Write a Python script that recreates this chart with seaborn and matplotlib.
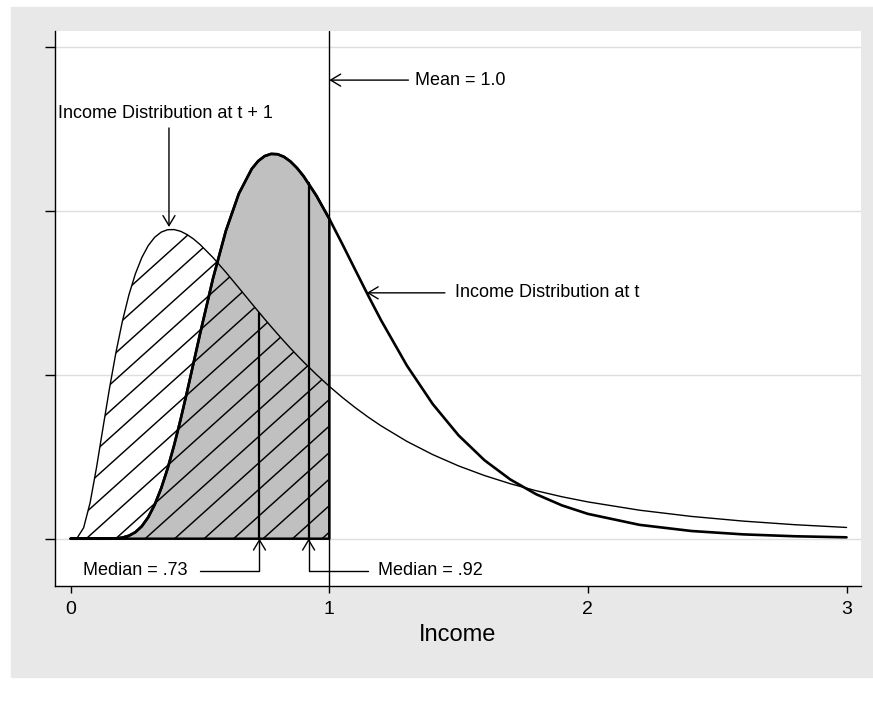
import numpy as np
import pandas as pd
import matplotlib
matplotlib.use("Agg")
import matplotlib.pyplot as plt
from matplotlib.patches import Rectangle
import seaborn as sns

# income grid and the two density curves
income = [0, 0.025, 0.05, 0.075, 0.1, 0.125, 0.15, 0.175, 0.2, 0.225, 0.25, 0.275, 0.3,
          0.325, 0.35, 0.375, 0.4, 0.425, 0.45, 0.475, 0.5, 0.55, 0.6, 0.65, 0.7,
          0.725, 0.75, 0.775, 0.8, 0.825, 0.85, 0.875, 0.9, 0.95, 1.0,
          1.05, 1.1, 1.15, 1.2, 1.3, 1.4, 1.5, 1.6, 1.7, 1.8, 1.9, 2.0,
          2.2, 2.4, 2.6, 2.8, 3.0]
dens_t = [0, 0, 0, 0, 0, 0, 0.0002, 0.001, 0.0034, 0.009, 0.0198, 0.038, 0.0657,
          0.1041, 0.1539, 0.2147, 0.2853, 0.3638, 0.4484, 0.5361, 0.6242, 0.7932, 0.9392,
          1.0523, 1.1281, 1.1521, 1.1672, 1.1739, 1.1729, 1.1649, 1.1506, 1.1309, 1.1065,
          1.0465, 0.9759,
          0.8994, 0.8206, 0.7423, 0.6666, 0.5281, 0.4107, 0.3151, 0.2394, 0.1806, 0.1356,
          0.1015, 0.0757,
          0.0422, 0.0235, 0.0132, 0.0074, 0.0042]
dens_t1 = [0, 0.0024, 0.0333, 0.1096, 0.2179, 0.3389, 0.4586, 0.5684, 0.6638, 0.7435, 0.8078,
           0.8576, 0.8944,
           0.9197, 0.9353, 0.9426, 0.9430, 0.9378, 0.9278, 0.9143, 0.8976, 0.8579, 0.8129,
           0.7654, 0.7174, 0.6936, 0.6701, 0.6470, 0.6244, 0.6023, 0.5808, 0.5599, 0.5396,
           0.5010, 0.4648,
           0.4312, 0.4000, 0.3711, 0.3444, 0.2969, 0.2565, 0.2220, 0.1927, 0.1677, 0.1463,
           0.1279, 0.1122,
           0.0869, 0.0680, 0.0537, 0.0427, 0.0343]

mean_income = 1.0
median_t1, median_t = 0.73, 0.92
median_t1_height, median_t_height = 0.689, 1.084

x_ticks = [0, 1, 2, 3]
y_ticks = [0, 0.5, 1, 1.5]

df = pd.DataFrame({"income": income, "t": dens_t, "t1": dens_t1})
left = df[df["income"] <= mean_income]

sns.set_style("white")
plt.rcParams["font.family"] = ["Liberation Sans", "DejaVu Sans"]
plt.rcParams["text.color"] = "black"
plt.rcParams["axes.labelcolor"] = "black"

fig = plt.figure(figsize=(8.73, 7.05), dpi=100)
fig.patches.append(Rectangle((11 / 873, 1 - 677 / 705), 862 / 873, 670 / 705,
                             transform=fig.transFigure, color="#e8e8e8", zorder=-5))
ax = fig.add_axes([55 / 873, 1 - 586 / 705, 806 / 873, 555 / 705])
ax.set_facecolor("white")

for yv in y_ticks:
    ax.axhline(yv, color="#dedede", lw=1.0, zorder=0.5)

# shaded area under the t curve up to the mean
ax.fill_between(left["income"], 0, left["t"], color="#c0c0c0", lw=0, zorder=1)

# hatched area under the t+1 curve up to the mean
clip = ax.fill_between(left["income"], 0, left["t1"], facecolor="none", lw=0, zorder=1)
clip_path = clip.get_paths()[0]
slope, step = 0.71, 0.114
for x0 in np.arange(0.744 - 14 * step, 1.1, step):
    ln, = ax.plot([x0, x0 + 2.5], [0, 2.5 * slope], color="black", lw=1.05, zorder=1.5)
    ln.set_clip_path(clip_path, transform=ax.transData)

# outline of the shaded block
ax.fill_between(left["income"], 0, left["t"], facecolor="none", edgecolor="black",
                lw=1.8, zorder=2)

sns.lineplot(data=df, x="income", y="t1", color="black", lw=1.0, ax=ax, zorder=3)
sns.lineplot(data=df, x="income", y="t", color="black", lw=1.9, ax=ax, zorder=3)

ax.plot([median_t1, median_t1], [0, median_t1_height], color="black", lw=1.6, zorder=3)
ax.plot([median_t, median_t], [0, median_t_height], color="black", lw=1.6, zorder=3)
ax.axvline(mean_income, color="black", lw=1.0, zorder=3)

arrow = dict(arrowstyle="->,head_length=0.6,head_width=0.36", color="black", lw=1.0,
             shrinkA=0, shrinkB=0, mutation_scale=12)
fs = 13

ax.annotate("", xy=(1.0, 1.399), xytext=(1.306, 1.399), arrowprops=arrow)
ax.text(1.331, 1.399, "Mean = 1.0", fontsize=fs, va="center", ha="left")

ax.annotate("", xy=(0.38, 0.951), xytext=(0.38, 1.253), arrowprops=arrow)
ax.text(-0.049, 1.298, "Income Distribution at t + 1", fontsize=fs, va="center", ha="left")

ax.annotate("", xy=(1.145, 0.750), xytext=(1.447, 0.750), arrowprops=arrow)
ax.text(1.486, 0.750, "Income Distribution at t", fontsize=fs, va="center", ha="left")

elbow = dict(arrow, connectionstyle="angle,angleA=0,angleB=90,rad=0")
ax.annotate("", xy=(median_t1, 0), xytext=(0.50, -0.0976), arrowprops=elbow)
ax.text(0.046, -0.0976, "Median = .73", fontsize=fs, va="center", ha="left")
ax.annotate("", xy=(median_t, 0), xytext=(1.15, -0.0976), arrowprops=elbow)
ax.text(1.187, -0.0976, "Median = .92", fontsize=fs, va="center", ha="left")

ax.set_xlim(-0.0607, 3.056)
ax.set_ylim(-0.1443, 1.5488)
ax.set_xticks(x_ticks)
ax.set_yticks(y_ticks)
ax.set_yticklabels([])
ax.tick_params(axis="x", direction="out", length=5, width=1, pad=6, labelsize=14,
               bottom=True, colors="black")
ax.tick_params(axis="y", direction="out", length=7, width=1, left=True, colors="black")
ax.set_xlabel("Income", fontsize=17, labelpad=4)
ax.set_ylabel("")
for side in ["top", "right"]:
    ax.spines[side].set_visible(False)
for side in ["left", "bottom"]:
    ax.spines[side].set_color("black")
    ax.spines[side].set_linewidth(1.0)

fig.savefig("out.png", dpi=100, facecolor="white")
